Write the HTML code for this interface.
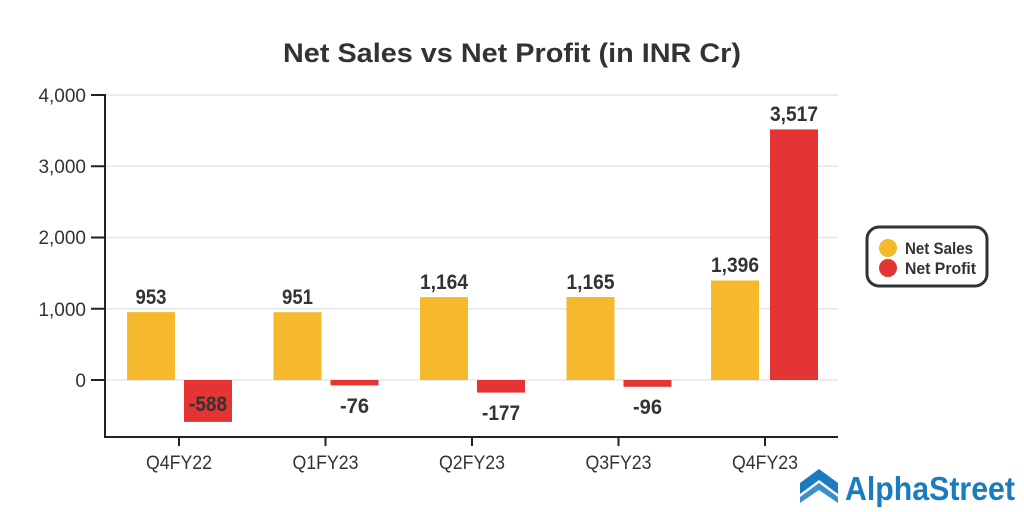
<!DOCTYPE html>
<html><head><meta charset="utf-8"><style>
body{margin:0;background:#fff;}
svg{display:block;font-family:"Liberation Sans Narrow","Liberation Sans",sans-serif;}
</style></head><body>
<svg width="1024" height="512" viewBox="0 0 1024 512">
<text x="283" y="62" font-size="27" font-weight="bold" fill="#333" textLength="458" lengthAdjust="spacingAndGlyphs">Net Sales vs Net Profit (in INR Cr)</text>
<g stroke="#e6e6e6" stroke-width="1.5">
<line x1="105" y1="95" x2="838" y2="95"/>
<line x1="105" y1="166.25" x2="838" y2="166.25"/>
<line x1="105" y1="237.5" x2="838" y2="237.5"/>
<line x1="105" y1="308.75" x2="838" y2="308.75"/>
<line x1="105" y1="380" x2="838" y2="380"/>
</g>
<g font-size="19" fill="#333" text-anchor="end">
<text x="86" y="102">4,000</text>
<text x="86" y="173">3,000</text>
<text x="86" y="244">2,000</text>
<text x="86" y="316">1,000</text>
<text x="86" y="387">0</text>
</g>
<g stroke="#222" stroke-width="2">
<line x1="105" y1="94" x2="105" y2="437"/>
<line x1="104" y1="437" x2="838" y2="437"/>
<line x1="91" y1="95" x2="105" y2="95"/>
<line x1="91" y1="166.25" x2="105" y2="166.25"/>
<line x1="91" y1="237.5" x2="105" y2="237.5"/>
<line x1="91" y1="308.75" x2="105" y2="308.75"/>
<line x1="91" y1="380" x2="105" y2="380"/>
<line x1="179" y1="437" x2="179" y2="446"/>
<line x1="325.5" y1="437" x2="325.5" y2="446"/>
<line x1="472" y1="437" x2="472" y2="446"/>
<line x1="618.5" y1="437" x2="618.5" y2="446"/>
<line x1="765" y1="437" x2="765" y2="446"/>
</g>
<g font-size="19" fill="#333" text-anchor="middle">
<text x="179" y="469" textLength="66" lengthAdjust="spacingAndGlyphs">Q4FY22</text>
<text x="325.5" y="469" textLength="66" lengthAdjust="spacingAndGlyphs">Q1FY23</text>
<text x="472" y="469" textLength="66" lengthAdjust="spacingAndGlyphs">Q2FY23</text>
<text x="618.5" y="469" textLength="66" lengthAdjust="spacingAndGlyphs">Q3FY23</text>
<text x="765" y="469" textLength="66" lengthAdjust="spacingAndGlyphs">Q4FY23</text>
</g>
<g fill="#f6b92b">
<rect x="127" y="312.1" width="48" height="67.9"/>
<rect x="273.5" y="312.2" width="48" height="67.8"/>
<rect x="420" y="297.1" width="48" height="82.9"/>
<rect x="566.5" y="297" width="48" height="83"/>
<rect x="711" y="280.5" width="48" height="99.5"/>
</g>
<g fill="#e43434">
<rect x="184" y="380" width="48" height="41.9"/>
<rect x="330.5" y="380" width="48" height="5.4"/>
<rect x="477" y="380" width="48" height="12.6"/>
<rect x="623.5" y="380" width="48" height="6.8"/>
<rect x="770" y="129.4" width="48" height="250.6"/>
</g>
<g font-size="21" font-weight="bold" fill="#333" text-anchor="middle">
<text x="151" y="304" textLength="31" lengthAdjust="spacingAndGlyphs">953</text>
<text x="297.5" y="304" textLength="31" lengthAdjust="spacingAndGlyphs">951</text>
<text x="444" y="289" textLength="48" lengthAdjust="spacingAndGlyphs">1,164</text>
<text x="590.5" y="289" textLength="48" lengthAdjust="spacingAndGlyphs">1,165</text>
<text x="735" y="272" textLength="48" lengthAdjust="spacingAndGlyphs">1,396</text>
<text x="208" y="411" textLength="38" lengthAdjust="spacingAndGlyphs">-588</text>
<text x="354.5" y="413" textLength="29" lengthAdjust="spacingAndGlyphs">-76</text>
<text x="501" y="420" textLength="38" lengthAdjust="spacingAndGlyphs">-177</text>
<text x="647.5" y="414" textLength="29" lengthAdjust="spacingAndGlyphs">-96</text>
<text x="794" y="121" textLength="48" lengthAdjust="spacingAndGlyphs">3,517</text>
</g>
<rect x="867" y="227" width="120" height="59" rx="12" fill="#fff" stroke="#333" stroke-width="3"/>
<circle cx="888" cy="248" r="9" fill="#f6b92b"/>
<circle cx="888" cy="268" r="9" fill="#e43434"/>
<g font-size="17" font-weight="bold" fill="#333">
<text x="905" y="254" textLength="68" lengthAdjust="spacingAndGlyphs">Net Sales</text>
<text x="905" y="274" textLength="71" lengthAdjust="spacingAndGlyphs">Net Profit</text>
</g>
<g fill="#1a7bbf">
<path d="M819 469 L838 483 L838 494 L819 480 L800 494 L800 483 Z"/>
<path d="M819 483 L838 497 L838 503 L819 490 L800 503 L800 497 Z" opacity="0.85"/>
</g>
<text x="845" y="500" font-size="33" font-weight="bold" fill="#1a7bbf" textLength="170" lengthAdjust="spacingAndGlyphs">AlphaStreet</text>
</svg>
</body></html>
